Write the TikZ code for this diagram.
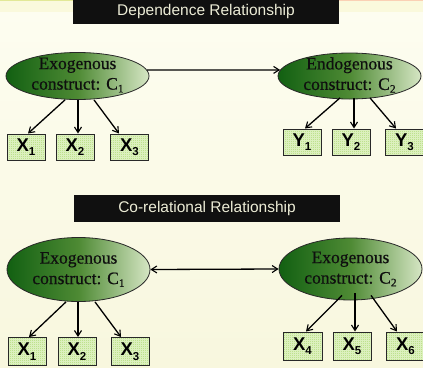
\documentclass[tikz,border=0pt]{standalone}
\usepackage{fontspec}
\setmainfont{Liberation Serif}
\setsansfont{Liberation Sans}
\newfontfamily\constructfont{Liberation Serif}[FakeBold=0.6]
\usetikzlibrary{shapes.geometric,calc,arrows.meta}

\definecolor{bgTop}{RGB}{253,253,240}
\definecolor{bgBot}{RGB}{248,247,222}
\definecolor{bgBand}{RGB}{250,249,220}
\definecolor{lineLeft}{RGB}{226,232,150}
\definecolor{lineRight}{RGB}{250,208,180}
\definecolor{barFill}{RGB}{16,16,16}
\definecolor{barText}{RGB}{236,236,214}
\definecolor{egDark}{RGB}{18,96,18}
\definecolor{egMid}{RGB}{78,138,52}
\definecolor{egLight}{RGB}{214,230,196}
\definecolor{boxFill}{RGB}{190,226,142}
\definecolor{boxGrid}{RGB}{220,240,190}
\definecolor{edge}{RGB}{40,40,40}
\definecolor{inkText}{RGB}{15,15,15}

\newcommand{\lowsub}[1]{\raisebox{-0.35ex}{\fontsize{11.5}{11.5}\selectfont #1}}
\newcommand{\boxsub}[1]{\raisebox{-0.45ex}{\fontsize{11.5}{11.5}\selectfont\bfseries #1}}

\tikzset{
  x=1pt, y=1pt,
  titlebar/.style={fill=barFill, text=barText, font=\sffamily\fontsize{15.5}{17}\selectfont,
    inner sep=0pt, minimum width=266, anchor=center},
  construct/.style={ellipse, draw=edge, line width=0.8pt, inner sep=0pt,
    left color=egDark, right color=egLight, middle color=egMid,
    minimum width=143},
  constructtext/.style={align=center, inner sep=0pt, text=inkText,
    font=\constructfont\fontsize{17.5}{20.5}\selectfont},
  indicator/.style={rectangle, draw=edge, line width=1pt, fill=boxFill, text=black,
    minimum width=38, inner sep=0pt, font=\sffamily\bfseries\fontsize{18.5}{18.5}\selectfont,
    path picture={\draw[boxGrid, line width=0.4pt]
      (path picture bounding box.south west) grid[step=2pt]
      (path picture bounding box.north east);}},
  link/.style={-{Straight Barb[length=5.5pt,width=7pt,line width=1.1pt]}, line width=1.3pt, black},
  biLink/.style={{Straight Barb[length=5.5pt,width=7pt,line width=1.1pt]}-{Straight Barb[length=5.5pt,width=7pt,line width=1.1pt]}, line width=1.3pt, black}
}

\begin{document}
\begin{tikzpicture}
  % page and background
  \useasboundingbox (0,0) rectangle (423,-367);
  \shade[top color=bgTop, bottom color=bgBot] (0,-12) rectangle (423,-367);
  \fill[bgBand] (0,0) rectangle (423,-12);
  \fill[lineLeft] (0,0) rectangle (73,-1.4);
  \fill[lineRight] (339,0) rectangle (423,-1.4);

  % ---------- dependence ----------
  \node[titlebar, minimum height=26] (t1) at (206,-11) {Dependence Relationship};

  \node[construct, minimum height=47] (e1) at (77.5,-76) {};
  \node[constructtext] (e1t) at ($(e1.center)+(0,1)$) {Exogenous\\construct: C\lowsub{1}};
  \node[construct, minimum height=46] (e2) at (349.5,-76) {};
  \node[constructtext] (e2t) at ($(e2.center)+(0,1)$) {Endogenous\\construct: C\lowsub{2}};
  \draw[link] (e1.5) -- (e2.175);

  \node[indicator, minimum height=26] (x1) at (26,-147) {X\boxsub{1}};
  \node[indicator, minimum height=26] (x2) at (75,-147) {X\boxsub{2}};
  \node[indicator, minimum height=26] (x3) at (129.5,-147) {X\boxsub{3}};
  \node[indicator, minimum height=26] (y1) at (302,-142) {Y\boxsub{1}};
  \node[indicator, minimum height=26] (y2) at (351,-142) {Y\boxsub{2}};
  \node[indicator, minimum height=26] (y3) at (404.5,-142) {Y\boxsub{3}};

  \draw[link] ($(e1.south)+(-12.5,0)$) -- ($(x1.north)+(2,0)$);
  \draw[link] ($(e1.south)+(0.5,0)$) -- ($(x2.north)+(3,0)$);
  \draw[link] ($(e1.south)+(16.5,0)$) -- ($(x3.north)+(-10.5,0)$);
  \draw[link] ($(e2.south)+(-9.5,1.5)$) -- ($(y1.north)+(3,0)$);
  \draw[link] ($(e2.south)+(4.5,1.5)$) -- ($(y2.north)+(3,0)$);
  \draw[link] ($(e2.south)+(20.5,1.5)$) -- ($(y3.north)+(-8.5,0)$);

  % ---------- co-relational ----------
  \node[titlebar, minimum height=27] (t2) at (207,-208.5) {Co-relational Relationship};

  \node[construct, minimum height=64] (e3) at (78.5,-269.5) {};
  \node[constructtext] (e3t) at (e3.center) {Exogenous\\construct: C\lowsub{1}};
  \node[construct, minimum height=62] (e4) at (350.5,-269) {};
  \node[constructtext] (e4t) at (e4.center) {Exogenous\\construct: C\lowsub{2}};
  \draw[biLink] (e3.east) -- (e4.west);

  \node[indicator, minimum height=28] (x4) at (27,-351.5) {X\boxsub{1}};
  \node[indicator, minimum height=28] (x5) at (77,-351.5) {X\boxsub{2}};
  \node[indicator, minimum height=28] (x6) at (130,-351.5) {X\boxsub{3}};
  \node[indicator, minimum height=28, minimum width=39] (x7) at (302.5,-346) {X\boxsub{4}};
  \node[indicator, minimum height=28] (x8) at (352,-346) {X\boxsub{5}};
  \node[indicator, minimum height=28] (x9) at (405.5,-346) {X\boxsub{6}};

  \draw[link] ($(e3.south)+(-12.5,0)$) -- ($(x4.north)+(2,0)$);
  \draw[link] ($(e3.south)+(-0.5,0)$) -- ($(x5.north)+(1,0)$);
  \draw[link] ($(e3.south)+(16.5,0)$) -- ($(x6.north)+(-9,0)$);
  \draw[link] ($(e4.south)+(-8.5,5)$) -- ($(x7.north)+(3.5,0)$);
  \draw[link] ($(e4.south)+(4.5,7)$) -- ($(x8.north)+(3,0)$);
  \draw[link] ($(e4.south)+(20.5,5)$) -- ($(x9.north)+(-8.5,0)$);
\end{tikzpicture}
\end{document}
